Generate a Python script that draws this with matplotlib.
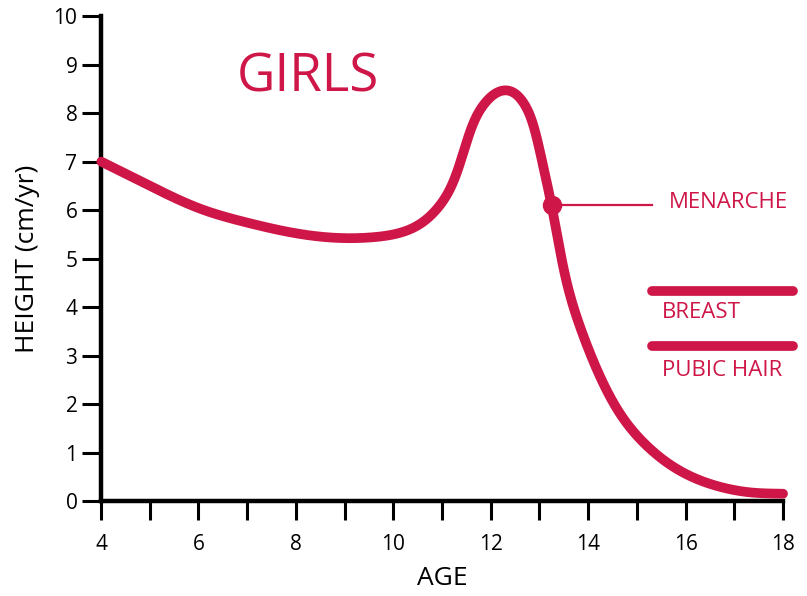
import numpy as np
import matplotlib
matplotlib.use("Agg")
import matplotlib.pyplot as plt

# values
ages = [4, 5, 6, 7, 8, 9, 9.6, 10.14, 10.5, 10.96, 11.3, 11.61, 11.85,
        12.26, 12.71, 12.88, 13.08, 13.25, 13.45, 13.84, 14.59, 15.14,
        15.82, 16.64, 17.3, 18]
velocity = [7.0, 6.5, 6.04, 5.74, 5.52, 5.42, 5.44, 5.53, 5.68, 6.1, 6.75,
            7.72, 8.17, 8.47, 8.16, 7.75, 6.89, 6.1, 5.0, 3.57, 1.9, 1.2,
            0.66, 0.31, 0.18, 0.15]
menarche_age = 13.26
menarche_val = 6.1
stage_start, stage_end = 15.3, 18.2
breast_val = 4.32
pubic_val = 3.2

x_ticks = list(range(4, 19))
x_labels = [str(t) if t % 2 == 0 else "" for t in x_ticks]
y_ticks = list(range(0, 11))

red = "#CE1748"


def spline(x, y, xn):
    # natural cubic spline, only to smooth the drawn line between read points
    x = np.asarray(x, float)
    y = np.asarray(y, float)
    n = len(x)
    h = np.diff(x)
    A = np.zeros((n, n))
    b = np.zeros(n)
    A[0, 0] = A[-1, -1] = 1
    for i in range(1, n - 1):
        A[i, i - 1] = h[i - 1]
        A[i, i] = 2 * (h[i - 1] + h[i])
        A[i, i + 1] = h[i]
        b[i] = 3 * ((y[i + 1] - y[i]) / h[i] - (y[i] - y[i - 1]) / h[i - 1])
    c = np.linalg.solve(A, b)
    bb = (np.diff(y) / h) - h * (2 * c[:-1] + c[1:]) / 3
    d = np.diff(c) / (3 * h)
    idx = np.clip(np.searchsorted(x, xn) - 1, 0, n - 2)
    t = xn - x[idx]
    return y[idx] + bb[idx] * t + c[idx] * t**2 + d[idx] * t**3


def smooth_curve(x, y, step=0.005, sigma=0.06):
    # spline then a light gaussian blur to take out reading jitter
    pad = 4 * sigma
    xs = np.arange(x[0] - pad, x[-1] + pad + step / 2, step)
    ys = spline(x, y, xs)
    k = np.arange(-pad, pad + step / 2, step)
    w = np.exp(-0.5 * (k / sigma) ** 2)
    w /= w.sum()
    ys = np.convolve(ys, w, mode="same")
    keep = (xs >= x[0]) & (xs <= x[-1])
    return xs[keep], ys[keep]


plt.rcParams["font.family"] = ["Open Sans", "DejaVu Sans"]

fig = plt.figure(figsize=(8.07, 5.96), dpi=100)
ax = fig.add_axes([0.1252, 0.1594, 0.8451, 0.8137])

cx, cy = smooth_curve(ages, velocity)
ax.plot(cx, cy, color=red, lw=7, solid_capstyle="round", clip_on=False,
        zorder=3)

# menarche marker
ax.plot([menarche_age, stage_start], [menarche_val, menarche_val],
        color=red, lw=1.6, zorder=3)
ax.plot(menarche_age, menarche_val, "o", color=red, ms=13, zorder=4)
ax.text(15.66, 6.16, "MENARCHE", color=red, fontsize=16, va="center")

# puberty stage bars
ax.plot([stage_start, stage_end], [breast_val, breast_val], color=red, lw=7,
        solid_capstyle="round", clip_on=False)
ax.plot([stage_start, stage_end], [pubic_val, pubic_val], color=red, lw=7,
        solid_capstyle="round", clip_on=False)
ax.text(15.52, 3.89, "BREAST", color=red, fontsize=16, va="center")
ax.text(15.52, 2.70, "PUBIC HAIR", color=red, fontsize=16, va="center")

ax.text(8.25, 8.72, "GIRLS", color=red, fontsize=38, ha="center", va="center")

ax.set_xlim(4, 18)
ax.set_ylim(0, 10)
ax.set_xticks(x_ticks)
ax.set_xticklabels(x_labels)
ax.set_yticks(y_ticks)

for s in ["top", "right"]:
    ax.spines[s].set_visible(False)
for s in ["left", "bottom"]:
    ax.spines[s].set_linewidth(3.2)
ax.tick_params(axis="x", length=14, width=2.2, labelsize=15, pad=10)
ax.tick_params(axis="y", length=14, width=2.2, labelsize=15, pad=3)

ax.set_xlabel("AGE", fontsize=19, labelpad=8)
ax.set_ylabel("HEIGHT (cm/yr)", fontsize=19, labelpad=10)

fig.savefig("out.png", dpi=100)
